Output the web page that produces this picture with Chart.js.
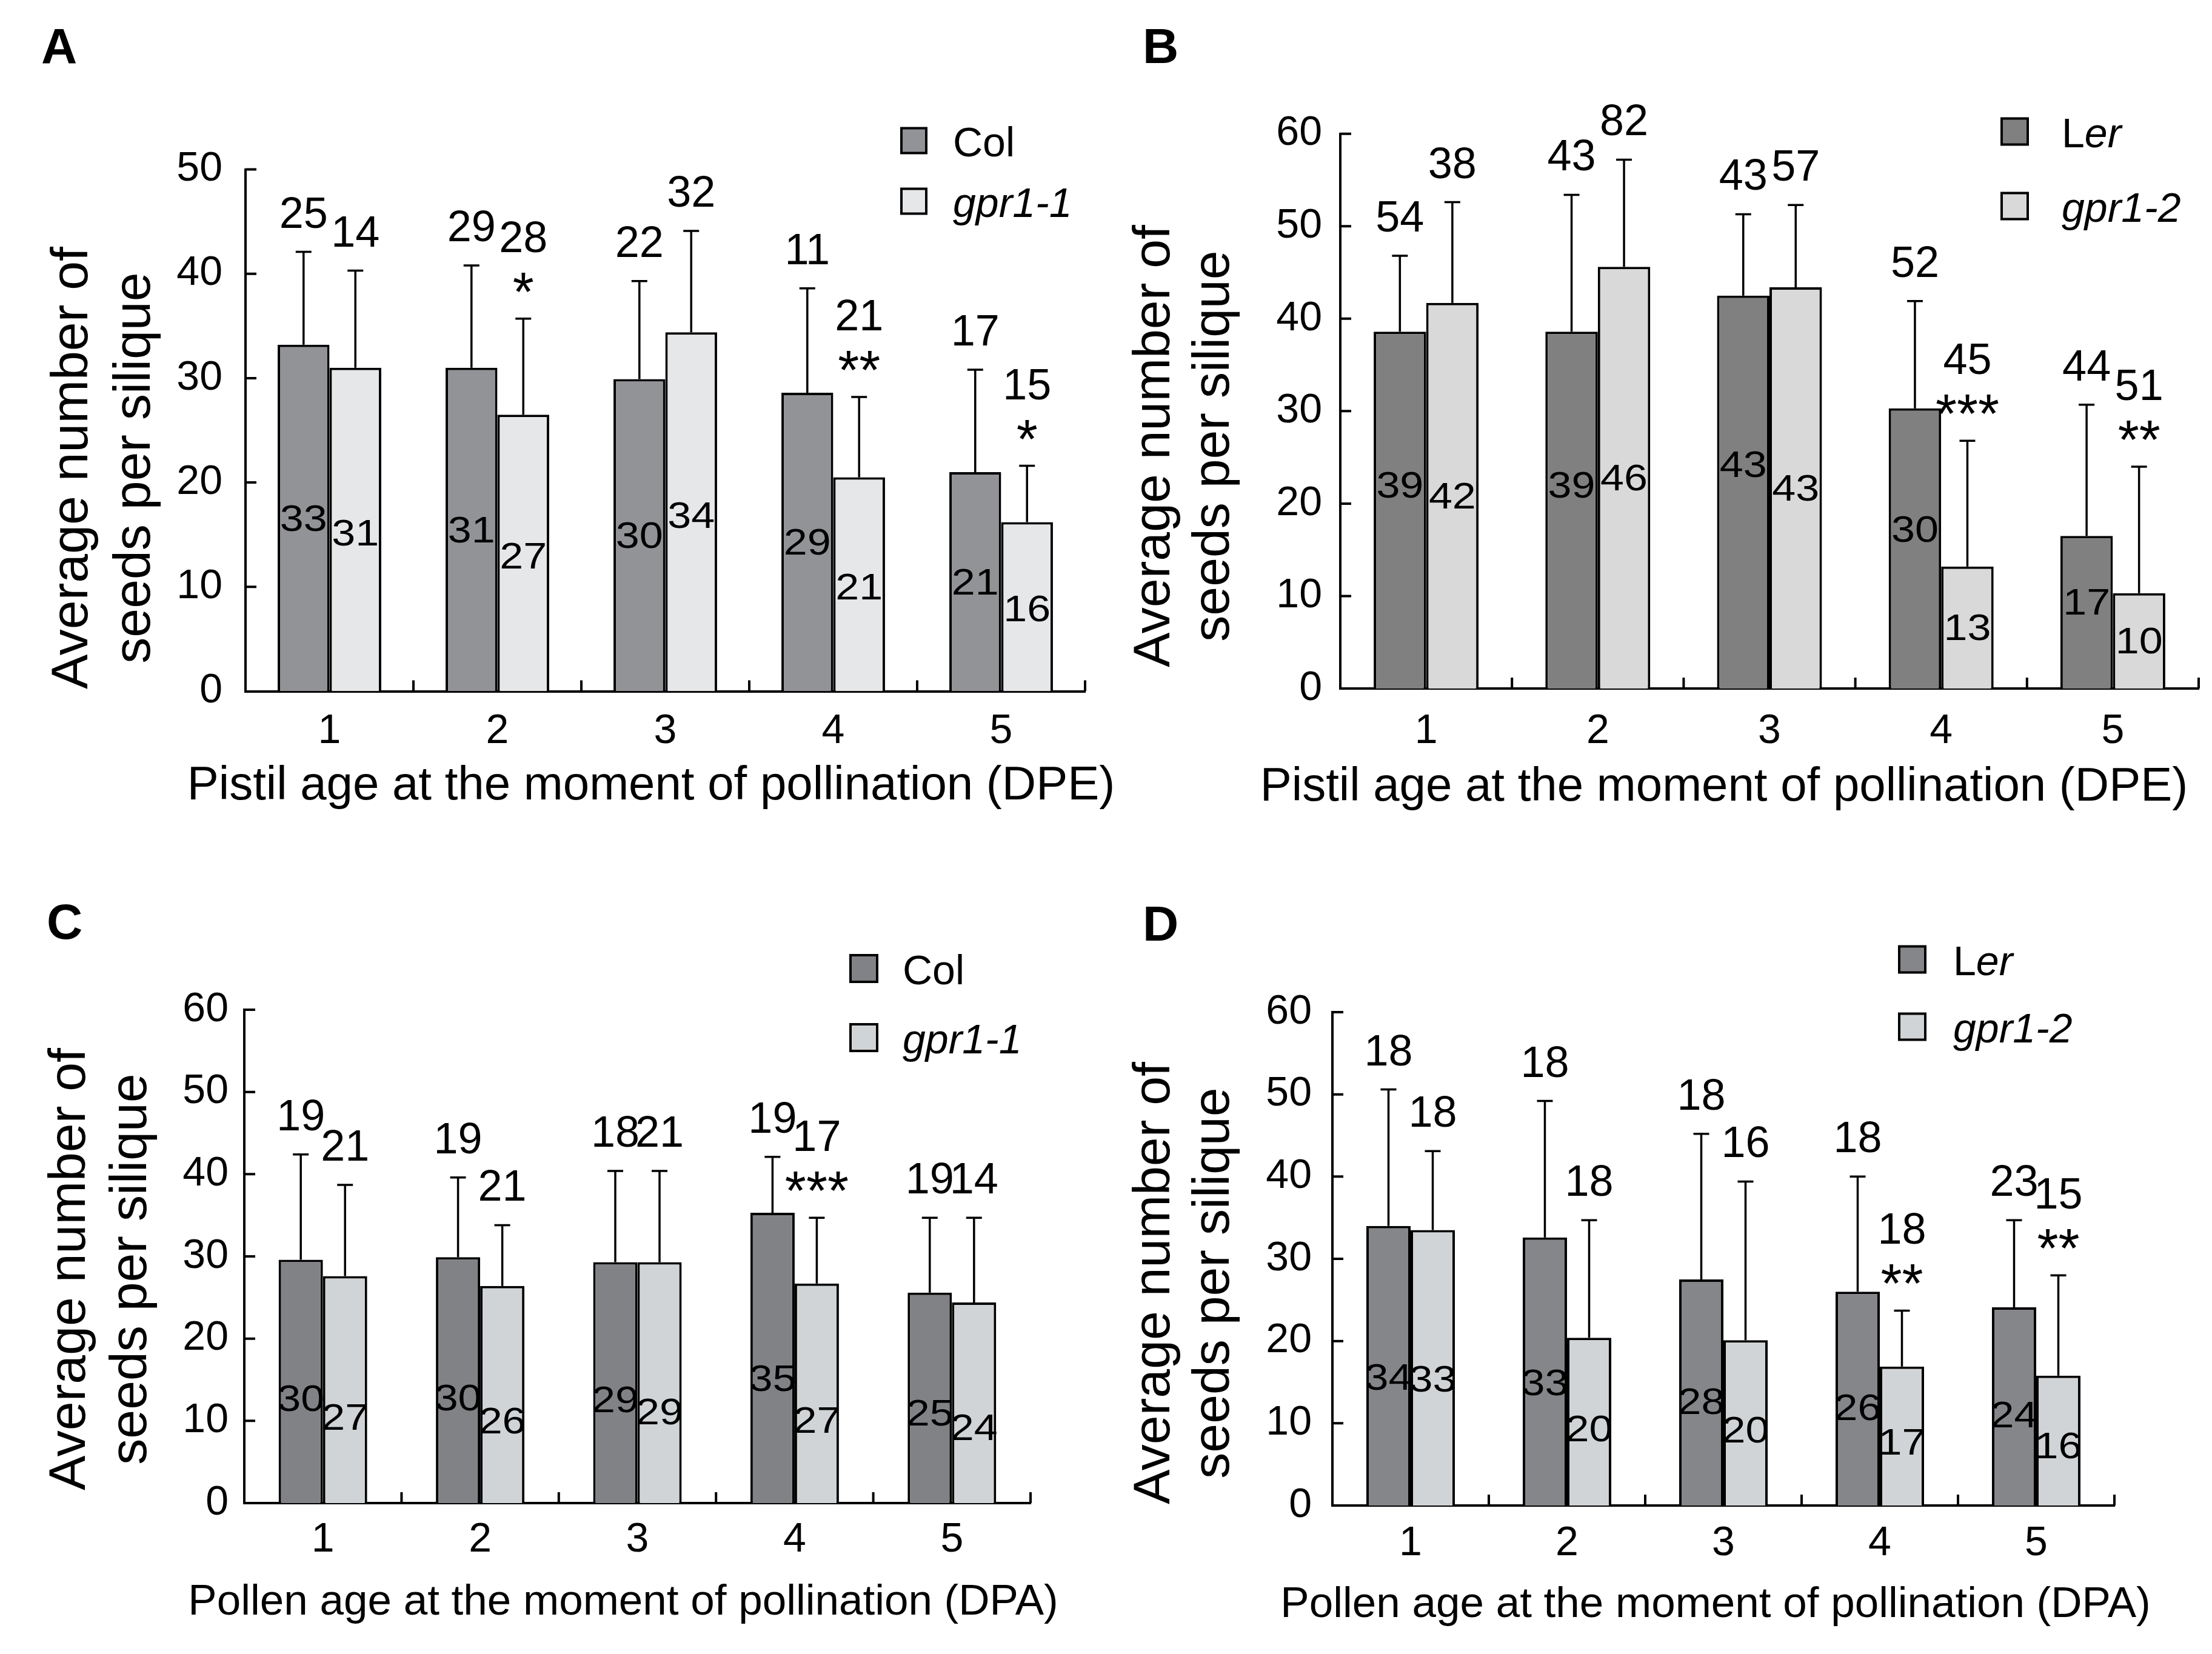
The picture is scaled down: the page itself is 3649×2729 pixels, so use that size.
<!DOCTYPE html>
<html>
<head>
<meta charset="utf-8">
<script src="https://cdn.jsdelivr.net/npm/chart.js@4.4.1/dist/chart.umd.min.js"></script>
<style>
  body { margin: 0; background: #fff; }
  #wrap { position: relative; width: 3649px; height: 2729px; background: #fff; overflow: hidden; }
  canvas { position: absolute; }
</style>
</head>
<body>
<div id="wrap">
  <canvas id="pA" width="1900" height="1364" style="left:0px;top:0px;width:1900px;height:1364px"></canvas>
  <canvas id="pC" width="1900" height="1365" style="left:0px;top:1364px;width:1900px;height:1365px"></canvas>
  <canvas id="pB" width="1824" height="1364" style="left:1825px;top:0px;width:1824px;height:1364px"></canvas>
  <canvas id="pD" width="1824" height="1365" style="left:1825px;top:1364px;width:1824px;height:1365px"></canvas>
</div>
<script>
const FAMILY = '"Liberation Sans", Arial, sans-serif';
const ages = ['1', '2', '3', '4', '5'];
const yTitleLines = ['Average number of', 'seeds per silique'];
const xTitlePistil = 'Pistil age at the moment of pollination (DPE)';
const xTitlePollen = 'Pollen age at the moment of pollination (DPA)';

// A - pistil age, Col / gpr1-1
const colMeanA = [33.2, 31.0, 29.9, 28.6, 21.0];
const colSdA   = [8.9, 9.8, 9.4, 10.0, 9.8];
const colNA    = ['25', '29', '22', '11', '17'];
const colLblA  = ['33', '31', '30', '29', '21'];
const colStarA = ['', '', '', '', ''];
const gprMeanA = [31.0, 26.5, 34.4, 20.5, 16.2];
const gprSdA   = [9.3, 9.2, 9.7, 7.7, 5.4];
const gprNA    = ['14', '28', '32', '21', '15'];
const gprLblA  = ['31', '27', '34', '21', '16'];
const gprStarA = ['', '*', '', '**', '*'];

// B - pistil age, Ler / gpr1-2
const lerMeanB = [38.6, 38.6, 42.5, 30.3, 16.5];
const lerSdB   = [8.2, 14.8, 8.8, 11.6, 14.2];
const lerNB    = ['54', '43', '43', '52', '44'];
const lerLblB  = ['39', '39', '43', '30', '17'];
const lerStarB = ['', '', '', '', ''];
const gprMeanB = [41.7, 45.6, 43.4, 13.2, 10.3];
const gprSdB   = [10.9, 11.6, 8.9, 13.6, 13.7];
const gprNB    = ['38', '82', '57', '45', '51'];
const gprLblB  = ['42', '46', '43', '13', '10'];
const gprStarB = ['', '', '', '***', '**'];

// C - pollen age, Col / gpr1-1
const colMeanC = [29.6, 29.9, 29.3, 35.3, 25.6];
const colSdC   = [12.8, 9.7, 11.1, 6.8, 9.1];
const colNC    = ['19', '19', '18', '19', '19'];
const colLblC  = ['30', '30', '29', '35', '25'];
const colStarC = ['', '', '', '', ''];
const gprMeanC = [27.6, 26.4, 29.3, 26.7, 24.4];
const gprSdC   = [11.1, 7.4, 11.1, 8.0, 10.3];
const gprNC    = ['21', '21', '21', '17', '14'];
const gprLblC  = ['27', '26', '29', '27', '24'];
const gprStarC = ['', '', '', '***', ''];

// D - pollen age, Ler / gpr1-2
const lerMeanD = [34.0, 32.6, 27.5, 26.0, 24.1];
const lerSdD   = [16.6, 16.6, 17.7, 14.0, 10.6];
const lerND    = ['18', '18', '18', '18', '23'];
const lerLblD  = ['34', '33', '28', '26', '24'];
const lerStarD = ['', '', '', '', ''];
const gprMeanD = [33.5, 20.4, 20.1, 16.9, 15.8];
const gprSdD   = [9.6, 14.3, 19.3, 6.8, 12.2];
const gprND    = ['18', '18', '16', '18', '15'];
const gprLblD  = ['33', '20', '20', '17', '16'];
const gprStarD = ['', '', '', '**', '**'];

const panels = [
  {
    id: 'pA', ox: 0, oy: 0, letter: 'A', ymax: 50, catPct: 0.617,
    area: { left: 405, right: 1790, top: 279.5, bottom: 1140.5 },
    xTitle: xTitlePistil, xTitleSize: 78, xTitlePos: { x: 1074, y: 1298 }, xTickPad: 26, yTickPad: 38,
    yTitle: { b1: 144, b2: 247, cy: 772 }, letterPos: { x: 68, y: 104 },
    legend: { x: 1487, size: 41, y1: 232, y2: 332, tx: 1572 }, lblK: [0.50, 0.49],
    dark:  { name: 'Col', color: '#929397', mean: colMeanA, sd: colSdA, n: colNA, lbl: colLblA, star: colStarA },
    light: { name: 'gpr1-1', color: '#e6e7e9', mean: gprMeanA, sd: gprSdA, n: gprNA, lbl: gprLblA, star: gprStarA }
  },
  {
    id: 'pB', ox: 1825, oy: 0, letter: 'B', ymax: 60, catPct: 0.611,
    area: { left: 2211, right: 3627, top: 220.7, bottom: 1136 },
    xTitle: xTitlePistil, xTitleSize: 78, xTitlePos: { x: 2844, y: 1300 }, xTickPad: 30, yTickPad: 30,
    yTitle: { b1: 1929, b2: 2027, cy: 736 }, letterPos: { x: 1885, y: 104 },
    legend: { x: 3302, size: 43, y1: 217, y2: 340, tx: 3401 }, lblK: [0.57, 0.50],
    dark:  { name: 'Ler', color: '#808080', mean: lerMeanB, sd: lerSdB, n: lerNB, lbl: lerLblB, star: lerStarB },
    light: { name: 'gpr1-2', color: '#d9d9d9', mean: gprMeanB, sd: gprSdB, n: gprNB, lbl: gprLblB, star: gprStarB }
  },
  {
    id: 'pC', ox: 0, oy: 1364, letter: 'C', ymax: 60, catPct: 0.563,
    area: { left: 403, right: 1700, top: 1666, bottom: 2480 },
    xTitle: xTitlePollen, xTitleSize: 71, xTitlePos: { x: 1028, y: 2646 }, xTickPad: 20, yTickPad: 26,
    yTitle: { b1: 140, b2: 241, cy: 2094 }, letterPos: { x: 77, y: 1549 },
    legend: { x: 1403, size: 44, y1: 1598, y2: 1712, tx: 1489 }, lblK: [0.43, 0.38],
    dark:  { name: 'Col', color: '#818286', mean: colMeanC, sd: colSdC, n: colNC, lbl: colLblC, star: colStarC },
    light: { name: 'gpr1-1', color: '#d1d4d6', mean: gprMeanC, sd: gprSdC, n: gprNC, lbl: gprLblC, star: gprStarC }
  },
  {
    id: 'pD', ox: 1825, oy: 1364, letter: 'D', ymax: 60, catPct: 0.566,
    area: { left: 2198, right: 3488, top: 1670, bottom: 2484 },
    xTitle: xTitlePollen, xTitleSize: 71, xTitlePos: { x: 2830, y: 2650 }, xTickPad: 22, yTickPad: 34,
    yTitle: { b1: 1929, b2: 2027, cy: 2117 }, letterPos: { x: 1885, y: 1552 },
    legend: { x: 3133, size: 43, y1: 1583, y2: 1694, tx: 3222 }, lblK: [0.46, 0.46],
    dark:  { name: 'Ler', color: '#858689', mean: lerMeanD, sd: lerSdD, n: lerND, lbl: lerLblD, star: lerStarD },
    light: { name: 'gpr1-2', color: '#d1d4d6', mean: gprMeanD, sd: gprSdD, n: gprND, lbl: gprLblD, star: gprStarD }
  }
];

function font(size, style) {
  return (style ? style + ' ' : '') + size + 'px ' + FAMILY;
}

// put the visual middle of a glyph run at cy
function textMid(ctx, text, x, cy) {
  const m = ctx.measureText(text);
  ctx.fillText(text, x, cy + (m.actualBoundingBoxAscent - m.actualBoundingBoxDescent) / 2);
}

function decor(p) {
  const ox = p.ox, oy = p.oy;
  return {
    id: 'decor',
    afterDatasetsDraw(chart) {
      const ctx = chart.ctx, ys = chart.scales.y;
      ctx.save();
      ctx.strokeStyle = '#000';
      ctx.lineWidth = 3.5;
      [p.dark, p.light].forEach((s, d) => {
        chart.getDatasetMeta(d).data.forEach((bar, i) => {
          const top = ys.getPixelForValue(s.mean[i] + s.sd[i]);
          ctx.beginPath();
          ctx.moveTo(bar.x, bar.y);
          ctx.lineTo(bar.x, top);
          ctx.moveTo(bar.x - 13, top);
          ctx.lineTo(bar.x + 13, top);
          ctx.stroke();
        });
      });
      ctx.restore();
    },
    afterDraw(chart) {
      const ctx = chart.ctx, xs = chart.scales.x, ys = chart.scales.y;
      const area = chart.chartArea;
      ctx.save();
      ctx.strokeStyle = '#000';
      ctx.fillStyle = '#000';

      // inward tick marks
      ctx.lineWidth = 4;
      ctx.beginPath();
      for (let v = 10; v <= p.ymax; v += 10) {
        const py = ys.getPixelForValue(v);
        ctx.moveTo(area.left, py);
        ctx.lineTo(area.left + 18, py);
      }
      for (let i = 0; i < ages.length; i++) {
        const px = xs.getPixelForValue(i + 0.5);
        ctx.moveTo(px, area.bottom);
        ctx.lineTo(px, area.bottom - 18);
      }
      ctx.stroke();

      // sample sizes, stars and rounded means
      ctx.textAlign = 'center';
      [p.dark, p.light].forEach((s, d) => {
        chart.getDatasetMeta(d).data.forEach((bar, i) => {
          const top = ys.getPixelForValue(s.mean[i] + s.sd[i]);
          const star = s.star[i];
          if (star) {
            ctx.font = font(90);
            textMid(ctx, star, bar.x, top - 60);
          }
          ctx.font = font(72);
          ctx.fillText(s.n[i], bar.x, top - (star ? 110 : 40));
          // the in-bar means are set a little wide in the original
          ctx.save();
          ctx.translate(bar.x, ys.getPixelForValue(s.mean[i] * p.lblK[d]));
          ctx.scale(1.13, 1);
          ctx.font = font(62);
          textMid(ctx, s.lbl[i], 0, 0);
          ctx.restore();
        });
      });

      // x title
      ctx.font = font(p.xTitleSize);
      textMid(ctx, p.xTitle, p.xTitlePos.x - ox, p.xTitlePos.y - oy);

      // y title
      ctx.font = font(86);
      [p.yTitle.b1, p.yTitle.b2].forEach((bx, j) => {
        ctx.save();
        ctx.translate(bx - ox, p.yTitle.cy - oy);
        ctx.rotate(-Math.PI / 2);
        ctx.fillText(yTitleLines[j], 0, 0);
        ctx.restore();
      });

      // panel letter
      ctx.textAlign = 'left';
      ctx.font = font(82, 'bold');
      ctx.fillText(p.letter, p.letterPos.x - ox, p.letterPos.y - oy);

      // legend
      const lg = p.legend;
      [[p.dark, lg.y1], [p.light, lg.y2]].forEach(([s, cy]) => {
        ctx.fillStyle = s.color;
        ctx.fillRect(lg.x - ox, cy - lg.size / 2 - oy, lg.size, lg.size);
        ctx.lineWidth = 4;
        ctx.strokeRect(lg.x - ox, cy - lg.size / 2 - oy, lg.size, lg.size);
        ctx.fillStyle = '#000';
        const base = cy - oy + 0.716 * 68 / 2 + 2;
        if (s.name === 'Col') {
          ctx.font = font(68);
          ctx.fillText('Col', lg.tx - ox, base);
        } else if (s.name === 'Ler') {
          ctx.font = font(68);
          ctx.fillText('L', lg.tx - ox, base);
          const w = ctx.measureText('L').width;
          ctx.font = font(68, 'italic');
          ctx.fillText('er', lg.tx - ox + w, base);
        } else {
          ctx.font = font(68, 'italic');
          ctx.fillText(s.name, lg.tx - ox, base);
        }
      });
      ctx.restore();
    }
  };
}

function makeChart(p) {
  const cv = document.getElementById(p.id);
  const W = cv.width, H = cv.height;
  const L = p.area.left - p.ox, R = p.area.right - p.ox;
  const T = p.area.top - p.oy, B = p.area.bottom - p.oy;

  new Chart(cv, {
    type: 'bar',
    data: {
      labels: ages,
      datasets: [
        { label: p.dark.name, data: p.dark.mean, backgroundColor: p.dark.color,
          borderColor: '#000', borderWidth: 4, borderSkipped: 'bottom' },
        { label: p.light.name, data: p.light.mean, backgroundColor: p.light.color,
          borderColor: '#000', borderWidth: 4, borderSkipped: 'bottom' }
      ]
    },
    options: {
      responsive: false,
      animation: false,
      devicePixelRatio: 1,
      layout: { padding: { left: 0, top: T, right: W - R, bottom: 0 } },
      datasets: { bar: { barPercentage: 1, categoryPercentage: p.catPct } },
      plugins: { legend: { display: false }, tooltip: { enabled: false }, title: { display: false } },
      scales: {
        x: {
          offset: true,
          grid: { display: false, drawTicks: false },
          border: { display: true, color: '#000', width: 4 },
          ticks: { color: '#000', font: { family: FAMILY, size: 68 }, padding: p.xTickPad,
                   maxRotation: 0, autoSkip: false },
          afterFit(s) { s.height = H - B; }
        },
        y: {
          min: 0, max: p.ymax,
          grid: { display: false, drawTicks: false },
          border: { display: true, color: '#000', width: 4 },
          ticks: { stepSize: 10, color: '#000', font: { family: FAMILY, size: 68 }, padding: p.yTickPad },
          afterFit(s) { s.width = L; }
        }
      }
    },
    plugins: [decor(p)]
  });
}

panels.forEach(makeChart);
</script>
</body>
</html>
